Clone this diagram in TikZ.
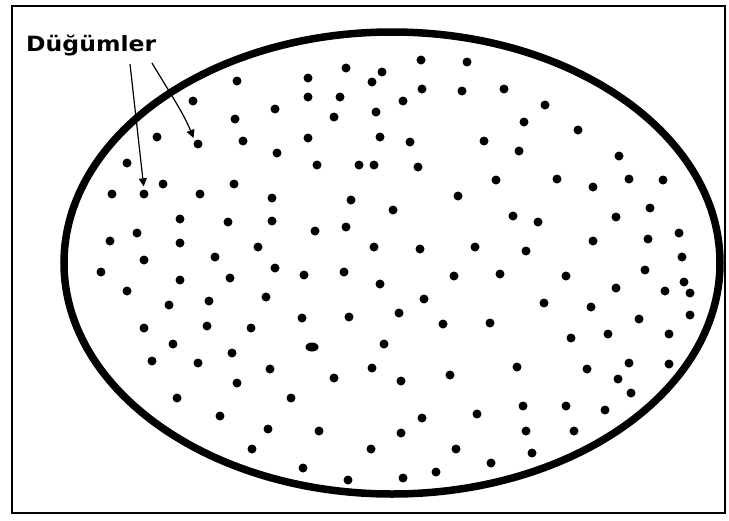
\documentclass[tikz,border=0pt]{standalone}
\usepackage{fontspec}
\newfontfamily\etiketfont{DejaVu Sans}
\usetikzlibrary{arrows.meta,shapes.geometric}
\tikzset{
  dugum/.style={circle, fill=black, inner sep=0pt, minimum size=9pt},
  okbas/.style={line width=1.2pt, -{Triangle[width=8pt,length=8pt]}, shorten >=3pt},
}
\begin{document}
\begin{tikzpicture}[x=1pt, y=-1pt]
  \useasboundingbox (0,0) rectangle (729,520);
  \draw[line width=2pt] (12,6) rectangle (725,513);

  % Outer boundary
  \draw[line width=7.5pt] (392,263) ellipse [x radius=328pt, y radius=231pt];

  % Nodes (dots)
  \foreach \px/\py [count=\i] in {421/60, 467/62, 346/68, 382/72, 308/78, 372/82, 237/81,
      308/97, 340/97, 422/89, 462/91, 403/101, 275/109, 376/112, 334/117, 504/89,
      545/105, 524/122, 578/130, 193/101, 235/119, 157/137, 243/141, 308/138, 380/137,
      410/142, 484/141, 519/151, 619/156, 277/153, 127/163, 317/165, 359/165, 374/165,
      418/167, 496/180, 557/179, 593/187, 629/179, 663/180, 163/184, 234/184, 112/194,
      200/194, 272/198, 351/200, 458/196, 393/210, 650/208, 513/216, 538/222, 616/217,
      180/219, 228/222, 272/221, 346/227, 315/231, 137/233, 593/241, 648/239, 679/233,
      110/241, 180/243, 258/247, 374/247, 420/249, 475/247, 526/251, 682/257, 215/257,
      144/260, 101/272, 275/268, 304/275, 344/272, 454/276, 500/274, 566/276, 645/270,
      230/278, 180/280, 380/284, 616/288, 684/282, 665/291, 690/293, 127/291, 266/297,
      424/299, 544/303, 591/307, 690/315, 639/319, 209/301, 169/305, 302/318, 349/317,
      399/313, 443/324, 490/323, 571/338, 608/334, 669/334, 144/328, 207/326, 251/328,
      173/344, 232/353, 384/344, 372/368, 517/367, 587/369, 629/363, 669/364, 618/379,
      631/393, 152/361, 198/363, 270/369, 237/383, 334/378, 401/381, 450/375, 177/398,
      291/398, 220/416, 268/429, 319/431, 252/449, 303/468, 348/480, 422/418, 477/414,
      523/406, 566/406, 605/410, 401/433, 526/431, 574/431, 371/449, 456/449, 532/453,
      491/463, 403/478, 436/472}
    \node[dugum] (n\i) at (\px,\py) {};
  \node[dugum] (d1) at (144,194) {};
  \node[dugum] (d2) at (198,144) {};
  \node[dugum, ellipse, minimum width=13pt] (d3) at (312,347) {};

  % Label and arrows
  \node[anchor=base west, inner sep=0pt, font=\etiketfont\bfseries\fontsize{21}{21}\selectfont]
    (etiket) at (26,51.5) {\scalebox{1.12}[1]{Düğümler}};
  \coordinate (a1) at (130,64);
  \coordinate (a2) at (152,63);
  \draw[okbas] (a1) -- (d1.north);
  \draw[okbas] (a2) .. controls (168,90) and (183,112) .. (d2.north west);
\end{tikzpicture}
\end{document}
